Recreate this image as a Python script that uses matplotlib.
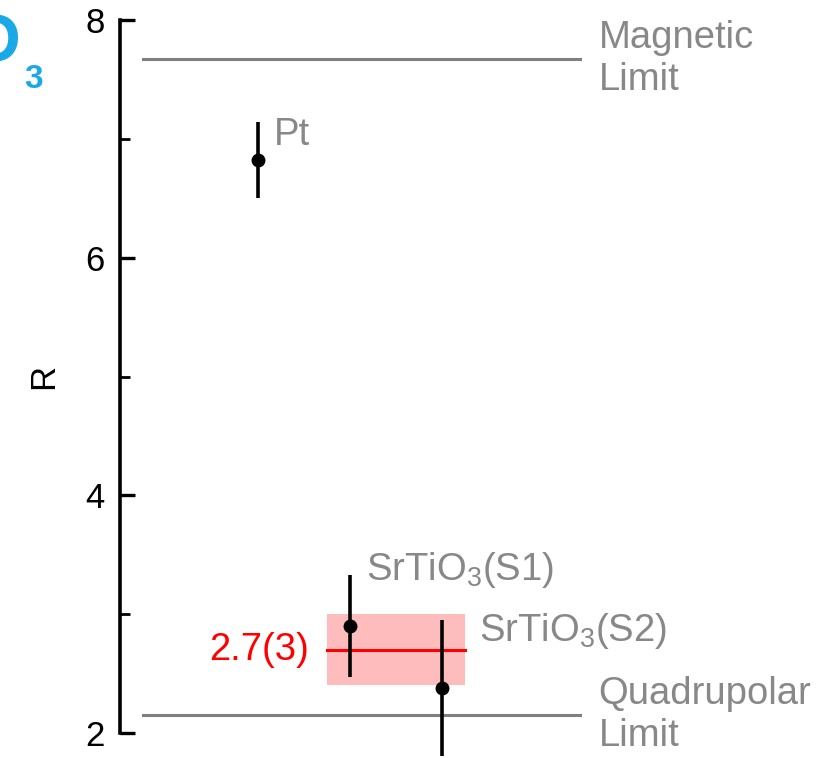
import numpy as np
import matplotlib
matplotlib.use('Agg')
import matplotlib.pyplot as plt
from matplotlib.ticker import MultipleLocator

plt.rcParams['font.family'] = ['Liberation Sans', 'DejaVu Sans']
plt.rcParams['mathtext.fontset'] = 'custom'
plt.rcParams['mathtext.rm'] = 'Liberation Sans'
plt.rcParams['mathtext.it'] = 'Liberation Sans'
plt.rcParams['mathtext.bf'] = 'Liberation Sans:bold'
plt.rcParams['mathtext.default'] = 'regular'

# data
samples = ['Pt', 'SrTiO$_3$(S1)', 'SrTiO$_3$(S2)']
xpos = [1, 2, 3]
R = [6.82, 2.90, 2.38]
R_err = [0.32, 0.43, 0.57]
mean_R = 2.7
mean_err = 0.3
mean_label = '2.7(3)'
magnetic_limit = 7.67
quadrupolar_limit = 2.15

gray = '#808080'
txtgray = '#888888'
fs = 27.5

fig = plt.figure(figsize=(8.3, 7.58), dpi=100)
ax = fig.add_axes([120/830, 25/758, 460/830, 713/758])

# averaged value with uncertainty band
ax.fill_between([1.75, 3.25], mean_R - mean_err, mean_R + mean_err,
                color='#ffbcbc', lw=0, zorder=1)
ax.plot([1.75, 3.25], [mean_R, mean_R], color='red', lw=2.2, zorder=2)
ax.text(1.55, mean_R, mean_label, color='red', fontsize=fs,
        ha='right', va='center')

# limits
ax.plot([-0.25, 4.5], [magnetic_limit]*2, color=gray, lw=2.2, clip_on=False)
ax.plot([-0.25, 4.5], [quadrupolar_limit]*2, color=gray, lw=2.2, clip_on=False)
ax.text(4.7, magnetic_limit, 'Magnetic\nLimit', color=txtgray, fontsize=fs,
        ha='left', va='center', linespacing=1.2)
ax.text(4.7, quadrupolar_limit, 'Quadrupolar\nLimit', color=txtgray, fontsize=fs,
        ha='left', va='center', linespacing=1.2)

# measurements
ax.errorbar(xpos, R, yerr=R_err, fmt='o', color='black', ms=9,
            elinewidth=2.6, capsize=0, zorder=3, clip_on=False)
ax.text(1.17, 6.95, samples[0], color=txtgray, fontsize=fs, ha='left', va='baseline')
ax.text(2.17, 3.29, samples[1], color=txtgray, fontsize=fs, ha='left', va='baseline')
ax.text(3.40, 2.77, samples[2], color=txtgray, fontsize=fs, ha='left', va='baseline')

ax.set_xlim(-0.5, 4.5)
ax.set_ylim(2, 8)
for s in ['top', 'right', 'bottom']:
    ax.spines[s].set_visible(False)
ax.spines['left'].set_linewidth(2.6)
ax.set_xticks([])
ax.yaxis.set_major_locator(MultipleLocator(2))
ax.yaxis.set_minor_locator(MultipleLocator(1))
ax.tick_params(axis='y', which='major', direction='in', length=11, width=2.4,
               labelsize=25, pad=11)
ax.tick_params(axis='y', which='minor', direction='in', length=7, width=2.0)
ax.set_ylabel('R', fontsize=25)
ax.yaxis.set_label_coords(-0.13, 0.5)

# cut-off panel label
fig.text(20/830, 1 - 62/758, 'O', ha='right', va='baseline', fontsize=48,
         fontweight='bold', color='#1aa9e6')
fig.text(24/830, 1 - 88/758, '3', ha='left', va='baseline', fontsize=24,
         fontweight='bold', color='#1aa9e6')

fig.savefig('out.png', dpi=100)
